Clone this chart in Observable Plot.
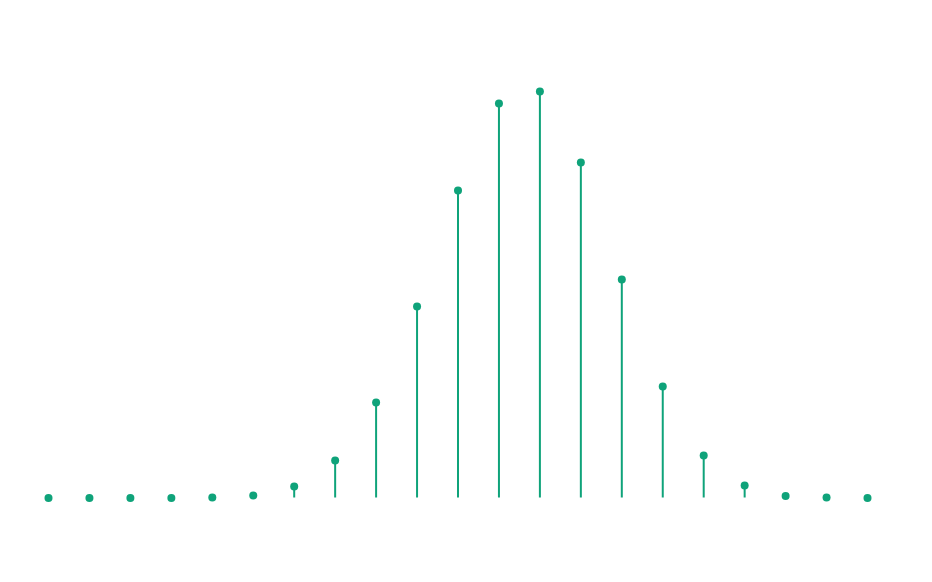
<!DOCTYPE html>
<html>
<head>
<meta charset="utf-8">
<script src="https://cdn.jsdelivr.net/npm/d3@7"></script>
<script src="https://cdn.jsdelivr.net/npm/@observablehq/plot@0.6"></script>
<style>
  html, body { margin: 0; padding: 0; background: #fff; }
</style>
</head>
<body>
<div id="chart"></div>
<script>
const ks = [0,1,2,3,4,5,6,7,8,9,10,11,12,13,14,15,16,17,18,19,20];
const values = [0, 0, 0, 0, 0.5, 2.5, 11.5, 37.5, 95.5, 191.5, 307.5, 394.5, 406.5, 335.5, 218.5, 111.5, 42.5, 12.5, 2, 0.5, 0];
const color = "#0fa37a";

const data = ks.map((k, i) => ({k, v: values[i]}));

const chart = Plot.plot({
  width: 932,
  height: 582,
  marginLeft: 48,
  marginRight: 65,
  marginTop: 91,
  marginBottom: 84.5,
  x: {domain: [0, 20], axis: null},
  y: {domain: [0, 406.5], axis: null},
  marks: [
    Plot.ruleX(data, {x: "k", y1: 0, y2: "v", stroke: color, strokeWidth: 2}),
    Plot.dot(data, {x: "k", y: "v", r: 4, fill: color})
  ]
});
document.getElementById("chart").appendChild(chart);
</script>
</body>
</html>
